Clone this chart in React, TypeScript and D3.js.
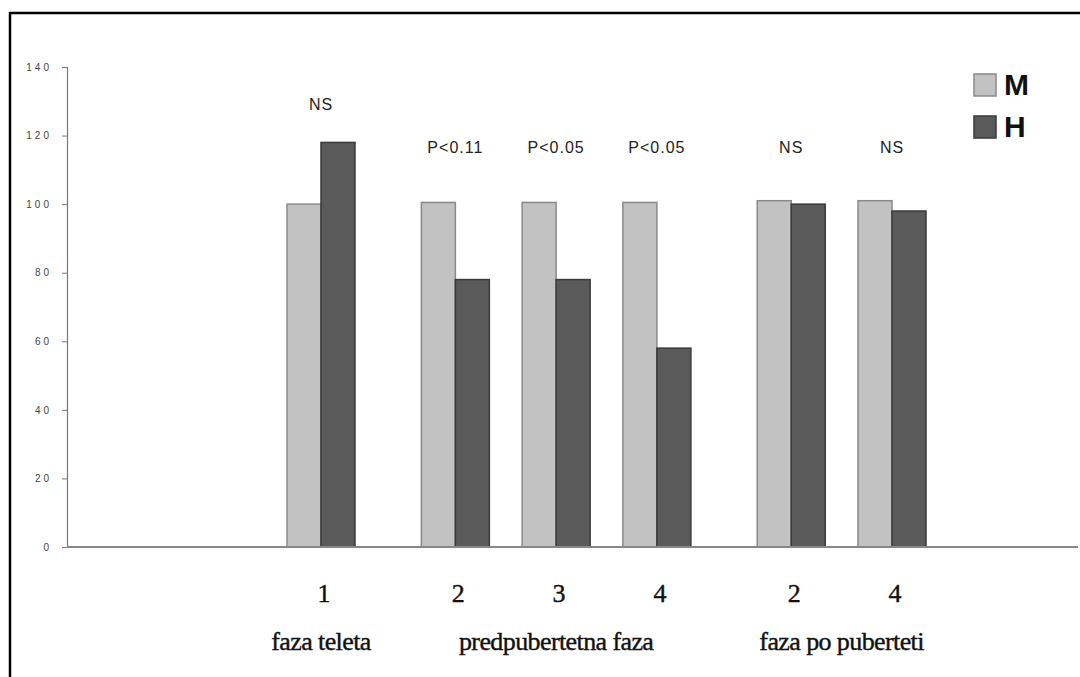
import React, { useEffect, useRef } from "react";
import * as d3 from "d3";

// data
const phases = ["faza teleta", "predpubertetna faza", "faza po puberteti"];
const groups = ["1", "2", "3", "4", "2", "4"];
const groupPhase = [0, 1, 1, 1, 2, 2];
const valuesM = [100, 100.5, 100.5, 100.5, 101, 101];
const valuesH = [118, 78, 78, 58, 100, 98];
const pLabels = ["NS", "P<0.11", "P<0.05", "P<0.05", "NS", "NS"];
const yTicks = [0, 20, 40, 60, 80, 100, 120, 140];
const series = [
  { key: "M", fill: "#c2c2c2", stroke: "#8a8a8a" },
  { key: "H", fill: "#5a5a5a", stroke: "#3a3a3a" },
];

const width = 1080;
const height = 677;

const App = () => {
  const ref = useRef<SVGSVGElement>(null);

  useEffect(() => {
    const svg = d3.select(ref.current);
    svg.selectAll("*").remove();

    var axisX = 67;
    var baseY = 547;

    var y = d3.scaleLinear().domain([0, 140]).range([baseY, 67]);

    // groups within a phase sit 3 steps apart, phases add one more step
    var slot = groups.map((g, i) => 3 * i + groupPhase[i]);
    var x = d3.scaleLinear().domain([0, 17]).range([321, 892]);
    var barW = 34;

    // frame
    svg.append("line")
      .attr("x1", 10).attr("x2", width)
      .attr("y1", 13).attr("y2", 13)
      .attr("stroke", "#000").attr("stroke-width", 2.5);
    svg.append("line")
      .attr("x1", 10).attr("x2", 10)
      .attr("y1", 12).attr("y2", height)
      .attr("stroke", "#000").attr("stroke-width", 2.5);

    // y axis
    const gy = svg.append("g").attr("transform", `translate(${axisX},0)`);
    gy.call(d3.axisLeft(y).tickValues(yTicks).tickSize(5).tickFormat((d) => String(d)));
    gy.select(".domain").attr("stroke", "#777").attr("stroke-width", 1.2);
    gy.selectAll(".tick line").attr("stroke", "#777");
    gy.selectAll(".tick text")
      .attr("x", -15)
      .attr("fill", "#444")
      .attr("font-family", "Liberation Sans, Arial, sans-serif")
      .attr("font-size", 10)
      .attr("letter-spacing", 3);

    // bars
    const bars = svg.append("g");
    groups.forEach((g, i) => {
      const cx = x(slot[i]);
      [valuesM[i], valuesH[i]].forEach((v, j) => {
        bars.append("rect")
          .attr("x", cx - barW + j * barW)
          .attr("y", y(v))
          .attr("width", barW)
          .attr("height", y(0) - y(v))
          .attr("fill", series[j].fill)
          .attr("stroke", series[j].stroke)
          .attr("stroke-width", 1.5);
      });
      const top = y(Math.max(valuesM[i], valuesH[i]));
      svg.append("text")
        .attr("x", cx)
        .attr("y", Math.min(top - 32, y(115)))
        .attr("text-anchor", "middle")
        .attr("fill", "#222")
        .attr("font-family", "Liberation Sans, Arial, sans-serif")
        .attr("font-size", 16)
        .attr("letter-spacing", 1)
        .text(pLabels[i]);
      svg.append("text")
        .attr("x", cx + 3)
        .attr("y", 602)
        .attr("text-anchor", "middle")
        .attr("fill", "#111")
        .attr("stroke", "#111")
        .attr("stroke-width", 0.4)
        .attr("font-family", "Liberation Serif, Times New Roman, serif")
        .attr("font-size", 26)
        .text(g);
    });

    // baseline
    svg.append("line")
      .attr("x1", axisX).attr("x2", 1078)
      .attr("y1", baseY).attr("y2", baseY)
      .attr("stroke", "#888").attr("stroke-width", 1.8);

    // phase names
    phases.forEach((p, k) => {
      const members = slot.filter((s, i) => groupPhase[i] === k).map((s) => x(s));
      svg.append("text")
        .attr("x", d3.mean(members) as number)
        .attr("y", 650)
        .attr("text-anchor", "middle")
        .attr("fill", "#111")
        .attr("stroke", "#111")
        .attr("stroke-width", 0.4)
        .attr("font-family", "Liberation Serif, Times New Roman, serif")
        .attr("font-size", 26)
        .attr("letter-spacing", -0.6)
        .text(p);
    });

    // legend
    const lg = svg.append("g").attr("transform", "translate(974,74)");
    series.forEach((s, i) => {
      lg.append("rect")
        .attr("x", 0).attr("y", i * 42)
        .attr("width", 22).attr("height", 22)
        .attr("fill", s.fill).attr("stroke", s.stroke).attr("stroke-width", 1.5);
      lg.append("text")
        .attr("x", 30).attr("y", i * 42 + 21)
        .attr("fill", "#111")
        .attr("font-family", "Liberation Sans, Arial, sans-serif")
        .attr("font-weight", "bold")
        .attr("font-size", 30)
        .text(s.key);
    });
  }, []);

  return (
    <svg
      ref={ref}
      width={width}
      height={height}
      style={{ position: "absolute", left: 0, top: 0, background: "#fff" }}
    />
  );
};

export default App;
